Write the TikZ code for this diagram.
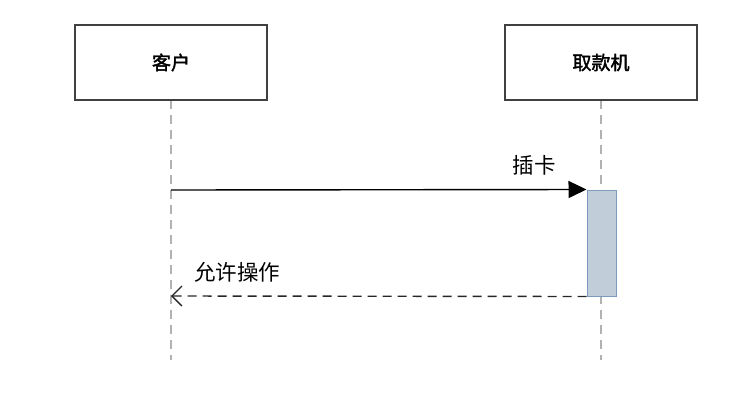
\documentclass[tikz,border=0pt]{standalone}
\usepackage{fontspec}
\newfontfamily\cjk{Noto Sans CJK SC}[AutoFakeBold=2]
\usetikzlibrary{arrows.meta}

\definecolor{actfill}{RGB}{193,205,217}
\definecolor{actdraw}{RGB}{125,155,190}

\tikzset{
  actor/.style={draw=black!75, line width=1.5, fill=white, minimum width=192, minimum height=75, font=\cjk\bfseries\fontsize{19}{19}\selectfont},
  lifeline/.style={draw=black!30, line width=1.5, dash pattern=on 9 off 6},
  activation/.style={draw=actdraw, line width=1, fill=actfill},
  msglabel/.style={font=\cjk\fontsize{21.5}{21.5}\selectfont, inner sep=0},
}

\begin{document}
\begin{tikzpicture}[x=1pt,y=1pt,yscale=-1,xscale=1]
  \useasboundingbox (0,0) rectangle (750,410);
  % lifelines
  \coordinate (clientend) at (171,360);
  \coordinate (atmend) at (601,360);
  \draw [lifeline] (171,100) -- (clientend);
  \draw [lifeline] (601,100) -- (atmend);
  % actors
  \node [actor] (client) at (171,62.5) {客户};
  \node [actor] (atm) at (601,62.5) {取款机};
  % activation
  \node [activation, minimum width=29, minimum height=106, inner sep=0] (act) at (601.5,243) {};
  \coordinate (insertstart) at (171,190);
  \coordinate (replyend) at (171,296);
  % messages
  \draw [line width=1.4, -{Triangle[length=18, width=17]}] (insertstart) -- (act.north west);
  \draw [line width=1.4, black!85, dash pattern=on 9 off 6, -{Straight Barb[length=10, width=20, line width=1.3]}] (act.south west) -- (replyend);
  \node [msglabel] (insertlabel) at (534,165) {插卡};
  \node [msglabel] (replylabel) at (237,272) {允许操作};
\end{tikzpicture}
\end{document}
